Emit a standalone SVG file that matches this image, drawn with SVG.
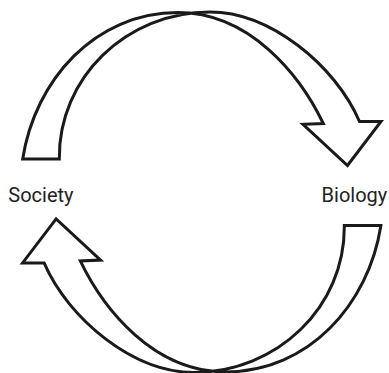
<svg xmlns="http://www.w3.org/2000/svg" width="389" height="373" viewBox="0 0 389 373">
<style>
.arrow{fill:#ffffff;stroke:#1a1a1a;stroke-width:3;stroke-linejoin:miter;stroke-miterlimit:10}
.lbl{font-family:Roboto,"Liberation Sans",sans-serif;font-size:20px;fill:#222222}
</style>
<defs>
<path id="curvedArrow" d="M22.7,159 C35,80 95,12.5 178,12.5 C250,12.5 300,75 323.3,123.5 L303,124.3 L347.5,165.5 L381,121.5 L359.5,121.5 C335,65 270,12 210,12 C126,12 58.3,78 59.3,159 Z"/>
</defs>
<rect width="389" height="373" fill="#ffffff"/>
<g id="connectors">
<use id="arrow-society-to-biology" href="#curvedArrow" class="arrow"/>
<use id="arrow-biology-to-society" href="#curvedArrow" class="arrow" transform="rotate(180 201.8 192.2)"/>
</g>
<g id="society"><text class="lbl" x="8.3" y="201.8">Society</text></g>
<g id="biology"><text class="lbl" x="387.3" y="201.8" text-anchor="end">Biology</text></g>
</svg>
